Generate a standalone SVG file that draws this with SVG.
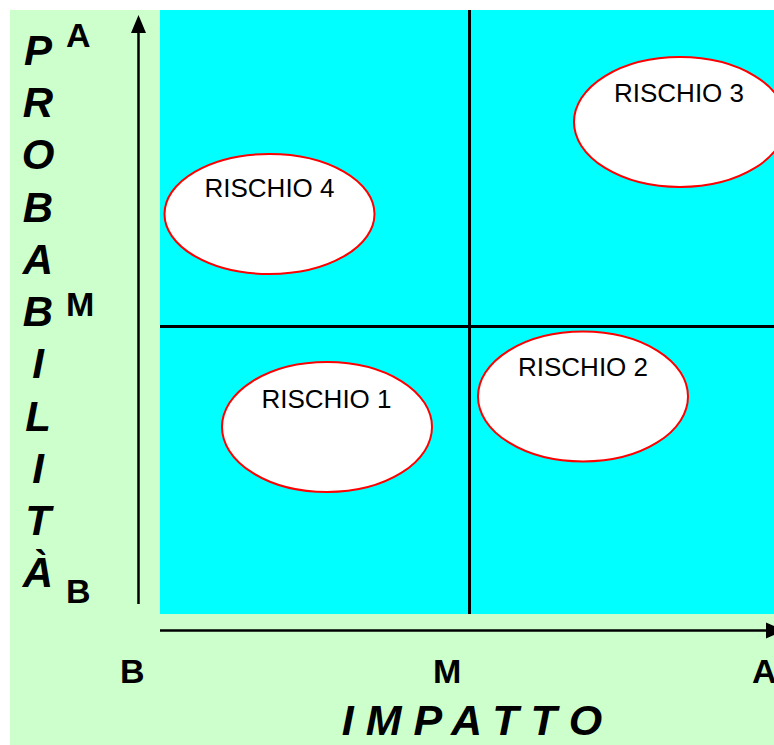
<svg xmlns="http://www.w3.org/2000/svg" width="774" height="745" viewBox="0 0 774 745">
  <style>
    .axis { stroke: #000; stroke-width: 2.5; fill: none; }
    .grid { stroke: #000; stroke-width: 3; fill: none; }
    .risk { fill: #fff; stroke: #f00; stroke-width: 2; }
    .rlabel { font-family: "Liberation Sans", Arial, sans-serif; font-size: 26px; fill: #000; text-anchor: middle; }
    .title { font-family: "Liberation Sans", Arial, sans-serif; font-size: 42px; font-weight: bold; font-style: italic; fill: #000; text-anchor: middle; }
    .tick { font-family: "Liberation Sans", Arial, sans-serif; font-size: 34px; font-weight: bold; fill: #000; }
  </style>

  <!-- background and matrix area -->
  <rect x="0" y="0" width="774" height="745" fill="#fff"/>
  <rect x="10" y="10" width="764" height="735" fill="#ccffcc"/>
  <rect x="160" y="10" width="614" height="604" fill="#00ffff"/>

  <!-- axes, quadrant lines -->
  <g id="connectors">
    <line class="grid" x1="469.5" y1="10" x2="469.5" y2="614"/>
    <line class="grid" x1="160" y1="326.5" x2="774" y2="326.5"/>
    <line class="axis" x1="138.5" y1="604" x2="138.5" y2="30"/>
    <polygon points="138.5,15 131,33 146,33" fill="#000"/>
    <line class="axis" x1="160" y1="630.5" x2="770" y2="630.5"/>
    <polygon points="784,630.5 766,622.5 766,638.5" fill="#000"/>
  </g>

  <!-- risk nodes -->
  <g id="rischio4">
    <ellipse class="risk" cx="269.5" cy="214" rx="105" ry="60"/>
    <text class="rlabel" x="269.5" y="197">RISCHIO 4</text>
  </g>
  <g id="rischio3">
    <ellipse class="risk" cx="680" cy="122" rx="106" ry="65"/>
    <text class="rlabel" x="679" y="102">RISCHIO 3</text>
  </g>
  <g id="rischio1">
    <ellipse class="risk" cx="327" cy="427" rx="105" ry="65"/>
    <text class="rlabel" x="326.5" y="408">RISCHIO 1</text>
  </g>
  <g id="rischio2">
    <ellipse class="risk" cx="583" cy="396.5" rx="105" ry="65"/>
    <text class="rlabel" x="583" y="376">RISCHIO 2</text>
  </g>

  <!-- vertical axis title -->
  <g id="probabilita">
    <text class="title" x="38" y="65">P</text>
    <text class="title" x="38" y="117">R</text>
    <text class="title" x="38" y="169">O</text>
    <text class="title" x="38" y="222">B</text>
    <text class="title" x="38" y="274">A</text>
    <text class="title" x="38" y="326">B</text>
    <text class="title" x="38" y="378">I</text>
    <text class="title" x="38" y="431">L</text>
    <text class="title" x="38" y="483">I</text>
    <text class="title" x="38" y="535">T</text>
    <text class="title" x="38" y="587">À</text>
  </g>

  <!-- axis levels -->
  <g id="levels">
    <text class="tick" x="66" y="47">A</text>
    <text class="tick" x="66" y="316">M</text>
    <text class="tick" x="66" y="603">B</text>
    <text class="tick" x="120" y="683">B</text>
    <text class="tick" x="433" y="683">M</text>
    <text class="tick" x="752" y="683">A</text>
  </g>

  <!-- horizontal axis title -->
  <g id="impatto">
    <text class="title" x="472" y="735" style="font-size:43px">I M P A T T O</text>
  </g>
</svg>
